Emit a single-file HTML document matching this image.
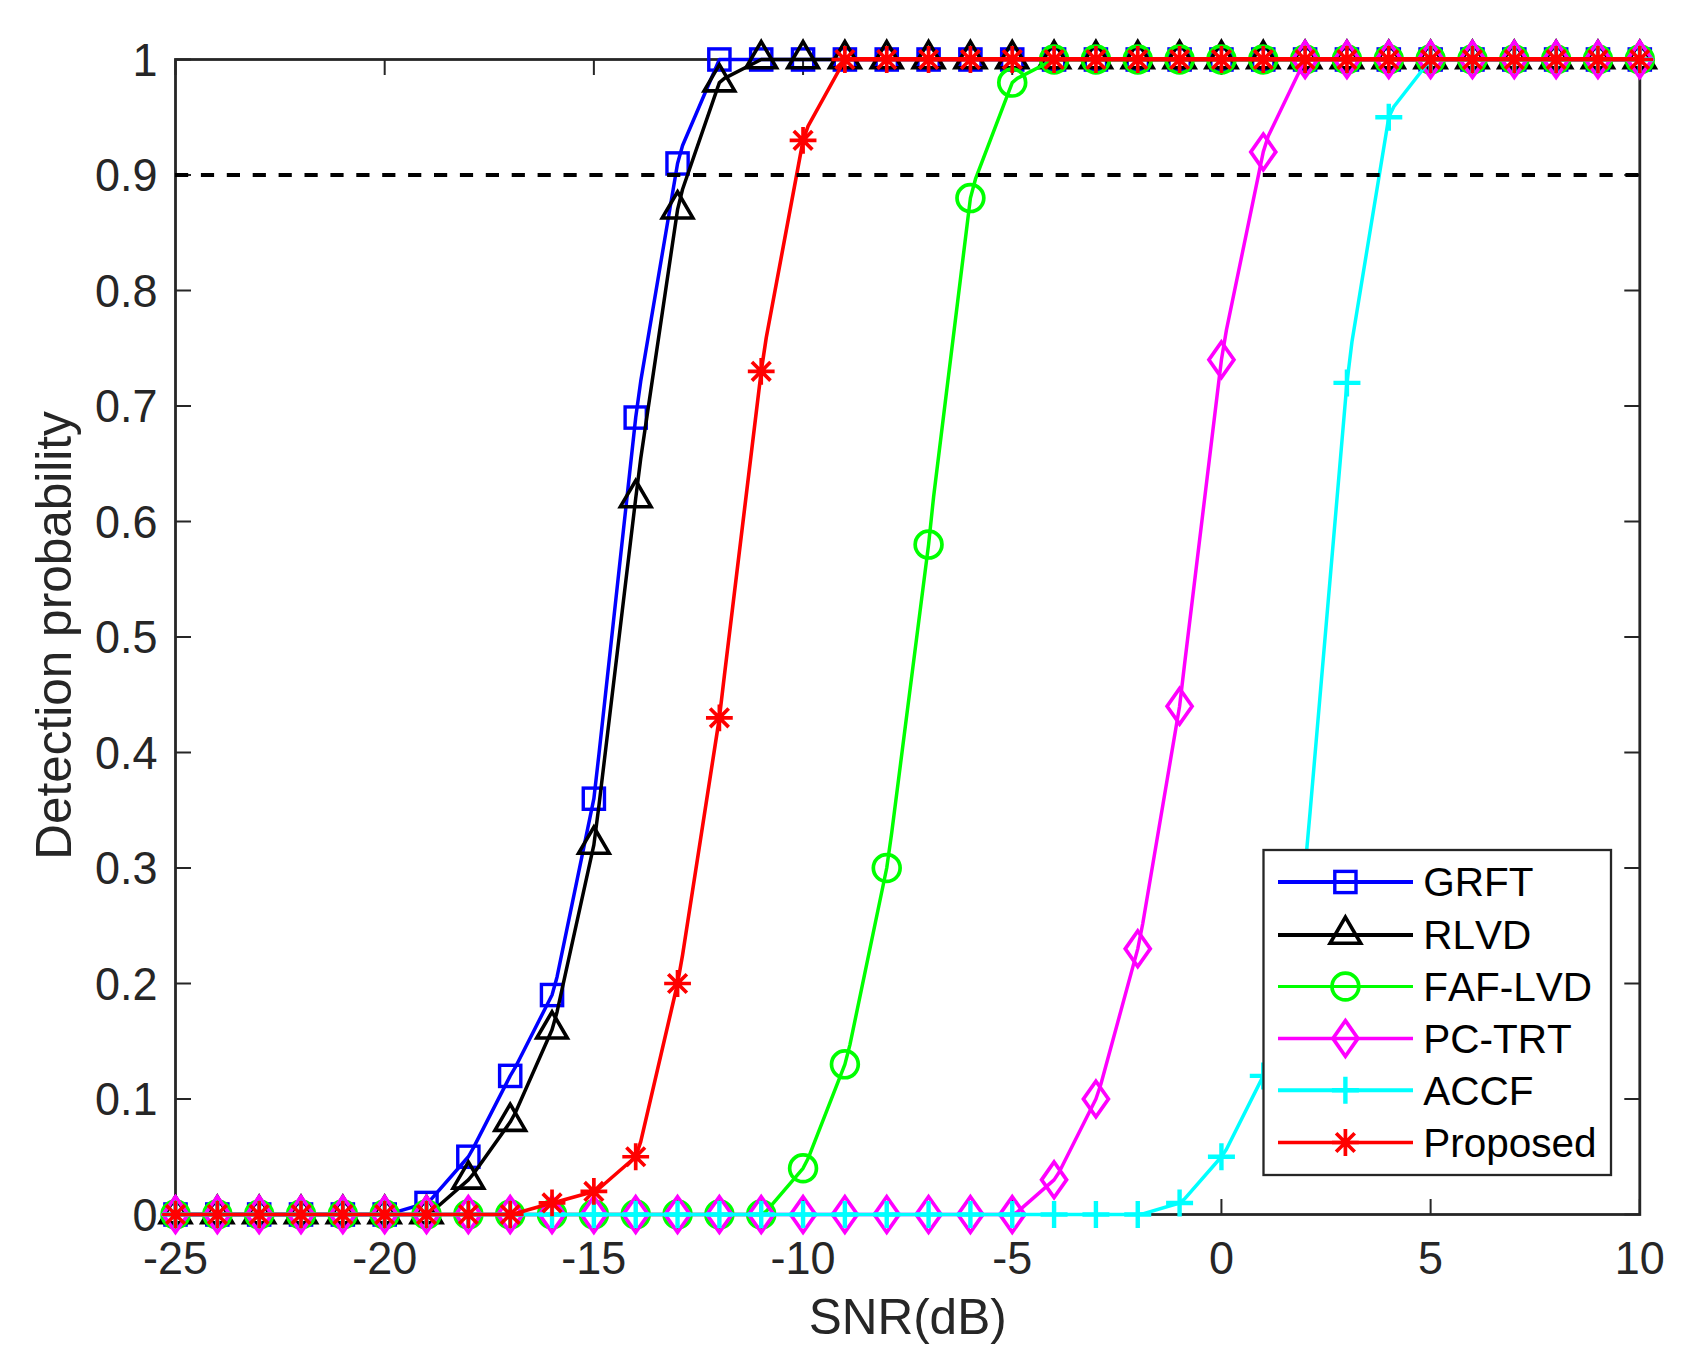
<!DOCTYPE html>
<html lang="en"><head><meta charset="utf-8"><title>Detection probability vs SNR</title>
<style>html,body{margin:0;padding:0;background:#fff}body{width:1691px;height:1367px;overflow:hidden}svg{display:block}text{font-family:"Liberation Sans",Arial,Helvetica,sans-serif;font-kerning:none;font-variant-ligatures:none}</style></head><body>
<svg width="1691" height="1367" viewBox="0 0 1691 1367">
<rect width="1691" height="1367" fill="#fff"/>
<defs><rect id="m-grft" x="-10.6" y="-10.6" width="21.2" height="21.2" fill="none" stroke="#0000ff" stroke-width="3.4"/><path id="m-rlvd" d="M0,-17.9L15.3,8.3L-15.3,8.3Z" fill="none" stroke="#000000" stroke-width="3.6" stroke-linejoin="miter"/><circle id="m-faf" r="13.4" fill="none" stroke="#00ff00" stroke-width="3.7"/><path id="m-pc" d="M0,-17.8L12.5,0L0,17.8L-12.5,0Z" fill="none" stroke="#ff00ff" stroke-width="3.7" stroke-linejoin="miter"/><path id="m-accf" d="M0,-13.5V13.5M-13.5,0H13.5" fill="none" stroke="#00ffff" stroke-width="4.4"/><path id="m-prop" d="M0,-13.4V13.4M-13.4,0H13.4M-9.3,-9.3L9.3,9.3M-9.3,9.3L9.3,-9.3" fill="none" stroke="#ff0000" stroke-width="3.7"/></defs>
<path d="M175.50,1214.5v-15.5M175.50,59.5v15.5M384.69,1214.5v-15.5M384.69,59.5v15.5M593.87,1214.5v-15.5M593.87,59.5v15.5M803.06,1214.5v-15.5M803.06,59.5v15.5M1012.24,1214.5v-15.5M1012.24,59.5v15.5M1221.43,1214.5v-15.5M1221.43,59.5v15.5M1430.61,1214.5v-15.5M1430.61,59.5v15.5M1639.80,1214.5v-15.5M1639.80,59.5v15.5M175.5,1214.50h15.5M1639.8,1214.50h-15.5M175.5,1099.00h15.5M1639.8,1099.00h-15.5M175.5,983.50h15.5M1639.8,983.50h-15.5M175.5,868.00h15.5M1639.8,868.00h-15.5M175.5,752.50h15.5M1639.8,752.50h-15.5M175.5,637.00h15.5M1639.8,637.00h-15.5M175.5,521.50h15.5M1639.8,521.50h-15.5M175.5,406.00h15.5M1639.8,406.00h-15.5M175.5,290.50h15.5M1639.8,290.50h-15.5M175.5,175.00h15.5M1639.8,175.00h-15.5M175.5,59.50h15.5M1639.8,59.50h-15.5" stroke="#262626" stroke-width="2.0" fill="none"/>
<rect x="175.5" y="59.5" width="1464.3" height="1155.0" fill="none" stroke="#262626" stroke-width="2.8"/>
<g font-size="45" fill="#262626" text-anchor="middle">
<text transform="translate(175.50,1273.8) scale(1,1.015)">-25</text>
<text transform="translate(384.69,1273.8) scale(1,1.015)">-20</text>
<text transform="translate(593.87,1273.8) scale(1,1.015)">-15</text>
<text transform="translate(803.06,1273.8) scale(1,1.015)">-10</text>
<text transform="translate(1012.24,1273.8) scale(1,1.015)">-5</text>
<text transform="translate(1221.43,1273.8) scale(1,1.015)">0</text>
<text transform="translate(1430.61,1273.8) scale(1,1.015)">5</text>
<text transform="translate(1639.80,1273.8) scale(1,1.015)">10</text>
</g>
<g font-size="45" fill="#262626" text-anchor="end">
<text transform="translate(157.6,1230.70) scale(1,1.015)">0</text>
<text transform="translate(157.6,1115.20) scale(1,1.015)">0.1</text>
<text transform="translate(157.6,999.70) scale(1,1.015)">0.2</text>
<text transform="translate(157.6,884.20) scale(1,1.015)">0.3</text>
<text transform="translate(157.6,768.70) scale(1,1.015)">0.4</text>
<text transform="translate(157.6,653.20) scale(1,1.015)">0.5</text>
<text transform="translate(157.6,537.70) scale(1,1.015)">0.6</text>
<text transform="translate(157.6,422.20) scale(1,1.015)">0.7</text>
<text transform="translate(157.6,306.70) scale(1,1.015)">0.8</text>
<text transform="translate(157.6,191.20) scale(1,1.015)">0.9</text>
<text transform="translate(157.6,75.70) scale(1,1.015)">1</text>
</g>
<text x="907.65" y="1333.6" font-size="49.5" fill="#262626" text-anchor="middle">SNR(dB)</text>
<text transform="translate(70.8,635.50) rotate(-90)" font-size="49.5" fill="#262626" text-anchor="middle">Detection probability</text>
<path d="M175.50,1214.50L384.69,1214.50L389.71,1213.81L426.52,1202.95L431.54,1198.92L468.36,1156.75L473.38,1147.87L510.20,1075.90L515.22,1067.46L552.03,995.05L557.05,976.91L593.87,798.70L598.89,754.68L635.71,417.55L640.73,381.16L677.55,163.45L682.57,145.44L719.38,59.50L1639.80,59.50" fill="none" stroke="#0000ff" stroke-width="3.5" stroke-linejoin="round"/>
<g><use href="#m-grft" x="175.50" y="1214.50"/><use href="#m-grft" x="217.34" y="1214.50"/><use href="#m-grft" x="259.17" y="1214.50"/><use href="#m-grft" x="301.01" y="1214.50"/><use href="#m-grft" x="342.85" y="1214.50"/><use href="#m-grft" x="384.69" y="1214.50"/><use href="#m-grft" x="426.52" y="1202.95"/><use href="#m-grft" x="468.36" y="1156.75"/><use href="#m-grft" x="510.20" y="1075.90"/><use href="#m-grft" x="552.03" y="995.05"/><use href="#m-grft" x="593.87" y="798.70"/><use href="#m-grft" x="635.71" y="417.55"/><use href="#m-grft" x="677.55" y="163.45"/><use href="#m-grft" x="719.38" y="59.50"/><use href="#m-grft" x="761.22" y="59.50"/><use href="#m-grft" x="803.06" y="59.50"/><use href="#m-grft" x="844.89" y="59.50"/><use href="#m-grft" x="886.73" y="59.50"/><use href="#m-grft" x="928.57" y="59.50"/><use href="#m-grft" x="970.41" y="59.50"/><use href="#m-grft" x="1012.24" y="59.50"/><use href="#m-grft" x="1054.08" y="59.50"/><use href="#m-grft" x="1095.92" y="59.50"/><use href="#m-grft" x="1137.75" y="59.50"/><use href="#m-grft" x="1179.59" y="59.50"/><use href="#m-grft" x="1221.43" y="59.50"/><use href="#m-grft" x="1263.27" y="59.50"/><use href="#m-grft" x="1305.10" y="59.50"/><use href="#m-grft" x="1346.94" y="59.50"/><use href="#m-grft" x="1388.78" y="59.50"/><use href="#m-grft" x="1430.61" y="59.50"/><use href="#m-grft" x="1472.45" y="59.50"/><use href="#m-grft" x="1514.29" y="59.50"/><use href="#m-grft" x="1556.13" y="59.50"/><use href="#m-grft" x="1597.96" y="59.50"/><use href="#m-grft" x="1639.80" y="59.50"/></g>
<path d="M175.50,1214.50L426.52,1214.50L431.54,1211.97L468.36,1179.85L473.38,1173.96L510.20,1122.10L515.22,1112.97L552.03,1029.70L557.05,1011.94L593.87,844.90L598.89,806.09L635.71,498.40L640.73,458.55L677.55,209.65L682.57,189.25L719.38,82.60L724.40,78.36L761.22,59.50L1639.80,59.50" fill="none" stroke="#000000" stroke-width="3.5" stroke-linejoin="round"/>
<g><use href="#m-rlvd" x="175.50" y="1214.50"/><use href="#m-rlvd" x="217.34" y="1214.50"/><use href="#m-rlvd" x="259.17" y="1214.50"/><use href="#m-rlvd" x="301.01" y="1214.50"/><use href="#m-rlvd" x="342.85" y="1214.50"/><use href="#m-rlvd" x="384.69" y="1214.50"/><use href="#m-rlvd" x="426.52" y="1214.50"/><use href="#m-rlvd" x="468.36" y="1179.85"/><use href="#m-rlvd" x="510.20" y="1122.10"/><use href="#m-rlvd" x="552.03" y="1029.70"/><use href="#m-rlvd" x="593.87" y="844.90"/><use href="#m-rlvd" x="635.71" y="498.40"/><use href="#m-rlvd" x="677.55" y="209.65"/><use href="#m-rlvd" x="719.38" y="82.60"/><use href="#m-rlvd" x="761.22" y="59.50"/><use href="#m-rlvd" x="803.06" y="59.50"/><use href="#m-rlvd" x="844.89" y="59.50"/><use href="#m-rlvd" x="886.73" y="59.50"/><use href="#m-rlvd" x="928.57" y="59.50"/><use href="#m-rlvd" x="970.41" y="59.50"/><use href="#m-rlvd" x="1012.24" y="59.50"/><use href="#m-rlvd" x="1054.08" y="59.50"/><use href="#m-rlvd" x="1095.92" y="59.50"/><use href="#m-rlvd" x="1137.75" y="59.50"/><use href="#m-rlvd" x="1179.59" y="59.50"/><use href="#m-rlvd" x="1221.43" y="59.50"/><use href="#m-rlvd" x="1263.27" y="59.50"/><use href="#m-rlvd" x="1305.10" y="59.50"/><use href="#m-rlvd" x="1346.94" y="59.50"/><use href="#m-rlvd" x="1388.78" y="59.50"/><use href="#m-rlvd" x="1430.61" y="59.50"/><use href="#m-rlvd" x="1472.45" y="59.50"/><use href="#m-rlvd" x="1514.29" y="59.50"/><use href="#m-rlvd" x="1556.13" y="59.50"/><use href="#m-rlvd" x="1597.96" y="59.50"/><use href="#m-rlvd" x="1639.80" y="59.50"/></g>
<path d="M175.50,1214.50L761.22,1214.50L766.24,1211.35L803.06,1168.30L808.08,1158.52L844.89,1064.35L849.91,1044.85L886.73,868.00L891.75,832.57L928.57,544.60L933.59,496.97L970.41,198.10L975.43,179.19L1012.24,82.60L1017.26,78.38L1054.08,59.50L1639.80,59.50" fill="none" stroke="#00ff00" stroke-width="3.5" stroke-linejoin="round"/>
<g><use href="#m-faf" x="175.50" y="1214.50"/><use href="#m-faf" x="217.34" y="1214.50"/><use href="#m-faf" x="259.17" y="1214.50"/><use href="#m-faf" x="301.01" y="1214.50"/><use href="#m-faf" x="342.85" y="1214.50"/><use href="#m-faf" x="384.69" y="1214.50"/><use href="#m-faf" x="426.52" y="1214.50"/><use href="#m-faf" x="468.36" y="1214.50"/><use href="#m-faf" x="510.20" y="1214.50"/><use href="#m-faf" x="552.03" y="1214.50"/><use href="#m-faf" x="593.87" y="1214.50"/><use href="#m-faf" x="635.71" y="1214.50"/><use href="#m-faf" x="677.55" y="1214.50"/><use href="#m-faf" x="719.38" y="1214.50"/><use href="#m-faf" x="761.22" y="1214.50"/><use href="#m-faf" x="803.06" y="1168.30"/><use href="#m-faf" x="844.89" y="1064.35"/><use href="#m-faf" x="886.73" y="868.00"/><use href="#m-faf" x="928.57" y="544.60"/><use href="#m-faf" x="970.41" y="198.10"/><use href="#m-faf" x="1012.24" y="82.60"/><use href="#m-faf" x="1054.08" y="59.50"/><use href="#m-faf" x="1095.92" y="59.50"/><use href="#m-faf" x="1137.75" y="59.50"/><use href="#m-faf" x="1179.59" y="59.50"/><use href="#m-faf" x="1221.43" y="59.50"/><use href="#m-faf" x="1263.27" y="59.50"/><use href="#m-faf" x="1305.10" y="59.50"/><use href="#m-faf" x="1346.94" y="59.50"/><use href="#m-faf" x="1388.78" y="59.50"/><use href="#m-faf" x="1430.61" y="59.50"/><use href="#m-faf" x="1472.45" y="59.50"/><use href="#m-faf" x="1514.29" y="59.50"/><use href="#m-faf" x="1556.13" y="59.50"/><use href="#m-faf" x="1597.96" y="59.50"/><use href="#m-faf" x="1639.80" y="59.50"/></g>
<path d="M175.50,1214.50L1012.24,1214.50L1017.26,1212.16L1054.08,1179.85L1059.10,1172.27L1095.92,1099.00L1100.94,1084.00L1137.75,948.85L1142.77,923.49L1179.59,706.30L1184.61,663.76L1221.43,359.80L1226.45,329.90L1263.27,151.90L1268.29,136.01L1305.10,59.50L1639.80,59.50" fill="none" stroke="#ff00ff" stroke-width="3.5" stroke-linejoin="round"/>
<g><use href="#m-pc" x="175.50" y="1214.50"/><use href="#m-pc" x="217.34" y="1214.50"/><use href="#m-pc" x="259.17" y="1214.50"/><use href="#m-pc" x="301.01" y="1214.50"/><use href="#m-pc" x="342.85" y="1214.50"/><use href="#m-pc" x="384.69" y="1214.50"/><use href="#m-pc" x="426.52" y="1214.50"/><use href="#m-pc" x="468.36" y="1214.50"/><use href="#m-pc" x="510.20" y="1214.50"/><use href="#m-pc" x="552.03" y="1214.50"/><use href="#m-pc" x="593.87" y="1214.50"/><use href="#m-pc" x="635.71" y="1214.50"/><use href="#m-pc" x="677.55" y="1214.50"/><use href="#m-pc" x="719.38" y="1214.50"/><use href="#m-pc" x="761.22" y="1214.50"/><use href="#m-pc" x="803.06" y="1214.50"/><use href="#m-pc" x="844.89" y="1214.50"/><use href="#m-pc" x="886.73" y="1214.50"/><use href="#m-pc" x="928.57" y="1214.50"/><use href="#m-pc" x="970.41" y="1214.50"/><use href="#m-pc" x="1012.24" y="1214.50"/><use href="#m-pc" x="1054.08" y="1179.85"/><use href="#m-pc" x="1095.92" y="1099.00"/><use href="#m-pc" x="1137.75" y="948.85"/><use href="#m-pc" x="1179.59" y="706.30"/><use href="#m-pc" x="1221.43" y="359.80"/><use href="#m-pc" x="1263.27" y="151.90"/><use href="#m-pc" x="1305.10" y="59.50"/><use href="#m-pc" x="1346.94" y="59.50"/><use href="#m-pc" x="1388.78" y="59.50"/><use href="#m-pc" x="1430.61" y="59.50"/><use href="#m-pc" x="1472.45" y="59.50"/><use href="#m-pc" x="1514.29" y="59.50"/><use href="#m-pc" x="1556.13" y="59.50"/><use href="#m-pc" x="1597.96" y="59.50"/><use href="#m-pc" x="1639.80" y="59.50"/></g>
<path d="M175.50,1214.50L1137.75,1214.50L1142.77,1213.81L1179.59,1202.95L1184.61,1198.92L1221.43,1156.75L1226.45,1149.21L1263.27,1075.90L1268.29,1057.50L1305.10,868.00L1310.12,811.75L1346.94,382.90L1351.96,341.71L1388.78,117.25L1393.80,106.76L1430.61,59.50L1639.80,59.50" fill="none" stroke="#00ffff" stroke-width="3.5" stroke-linejoin="round"/>
<g><use href="#m-accf" x="175.50" y="1214.50"/><use href="#m-accf" x="217.34" y="1214.50"/><use href="#m-accf" x="259.17" y="1214.50"/><use href="#m-accf" x="301.01" y="1214.50"/><use href="#m-accf" x="342.85" y="1214.50"/><use href="#m-accf" x="384.69" y="1214.50"/><use href="#m-accf" x="426.52" y="1214.50"/><use href="#m-accf" x="468.36" y="1214.50"/><use href="#m-accf" x="510.20" y="1214.50"/><use href="#m-accf" x="552.03" y="1214.50"/><use href="#m-accf" x="593.87" y="1214.50"/><use href="#m-accf" x="635.71" y="1214.50"/><use href="#m-accf" x="677.55" y="1214.50"/><use href="#m-accf" x="719.38" y="1214.50"/><use href="#m-accf" x="761.22" y="1214.50"/><use href="#m-accf" x="803.06" y="1214.50"/><use href="#m-accf" x="844.89" y="1214.50"/><use href="#m-accf" x="886.73" y="1214.50"/><use href="#m-accf" x="928.57" y="1214.50"/><use href="#m-accf" x="970.41" y="1214.50"/><use href="#m-accf" x="1012.24" y="1214.50"/><use href="#m-accf" x="1054.08" y="1214.50"/><use href="#m-accf" x="1095.92" y="1214.50"/><use href="#m-accf" x="1137.75" y="1214.50"/><use href="#m-accf" x="1179.59" y="1202.95"/><use href="#m-accf" x="1221.43" y="1156.75"/><use href="#m-accf" x="1263.27" y="1075.90"/><use href="#m-accf" x="1305.10" y="868.00"/><use href="#m-accf" x="1346.94" y="382.90"/><use href="#m-accf" x="1388.78" y="117.25"/><use href="#m-accf" x="1430.61" y="59.50"/><use href="#m-accf" x="1472.45" y="59.50"/><use href="#m-accf" x="1514.29" y="59.50"/><use href="#m-accf" x="1556.13" y="59.50"/><use href="#m-accf" x="1597.96" y="59.50"/><use href="#m-accf" x="1639.80" y="59.50"/></g>
<path d="M175.50,1214.50L510.20,1214.50L515.22,1213.55L552.03,1202.95L557.05,1201.78L593.87,1191.40L598.89,1188.76L635.71,1156.75L640.73,1141.66L677.55,983.50L682.57,955.03L719.38,717.85L724.40,675.39L761.22,371.35L766.24,337.73L803.06,140.35L808.08,126.16L844.89,59.50L1639.80,59.50" fill="none" stroke="#ff0000" stroke-width="3.6" stroke-linejoin="round"/>
<g><use href="#m-prop" x="175.50" y="1214.50"/><use href="#m-prop" x="217.34" y="1214.50"/><use href="#m-prop" x="259.17" y="1214.50"/><use href="#m-prop" x="301.01" y="1214.50"/><use href="#m-prop" x="342.85" y="1214.50"/><use href="#m-prop" x="384.69" y="1214.50"/><use href="#m-prop" x="426.52" y="1214.50"/><use href="#m-prop" x="468.36" y="1214.50"/><use href="#m-prop" x="510.20" y="1214.50"/><use href="#m-prop" x="552.03" y="1202.95"/><use href="#m-prop" x="593.87" y="1191.40"/><use href="#m-prop" x="635.71" y="1156.75"/><use href="#m-prop" x="677.55" y="983.50"/><use href="#m-prop" x="719.38" y="717.85"/><use href="#m-prop" x="761.22" y="371.35"/><use href="#m-prop" x="803.06" y="140.35"/><use href="#m-prop" x="844.89" y="59.50"/><use href="#m-prop" x="886.73" y="59.50"/><use href="#m-prop" x="928.57" y="59.50"/><use href="#m-prop" x="970.41" y="59.50"/><use href="#m-prop" x="1012.24" y="59.50"/><use href="#m-prop" x="1054.08" y="59.50"/><use href="#m-prop" x="1095.92" y="59.50"/><use href="#m-prop" x="1137.75" y="59.50"/><use href="#m-prop" x="1179.59" y="59.50"/><use href="#m-prop" x="1221.43" y="59.50"/><use href="#m-prop" x="1263.27" y="59.50"/><use href="#m-prop" x="1305.10" y="59.50"/><use href="#m-prop" x="1346.94" y="59.50"/><use href="#m-prop" x="1388.78" y="59.50"/><use href="#m-prop" x="1430.61" y="59.50"/><use href="#m-prop" x="1472.45" y="59.50"/><use href="#m-prop" x="1514.29" y="59.50"/><use href="#m-prop" x="1556.13" y="59.50"/><use href="#m-prop" x="1597.96" y="59.50"/><use href="#m-prop" x="1639.80" y="59.50"/></g>
<path d="M844.89,59.1H1639.8" stroke="#ff0000" stroke-width="4.3" fill="none"/>
<path d="M175.0,175.00H1639.8" stroke="#000" stroke-width="3.8" stroke-dasharray="13.2 12.7" fill="none"/>
<rect x="1263.5" y="850" width="347.5" height="325" fill="#fff" stroke="#262626" stroke-width="2.3"/>
<g font-size="40.5" fill="#000">
<path d="M1278,882H1413" stroke="#0000ff" stroke-width="4" fill="none"/>
<use href="#m-grft" x="1345.4" y="882"/>
<text x="1423.2" y="896.3">GRFT</text>
<path d="M1278,935H1413" stroke="#000000" stroke-width="4" fill="none"/>
<use href="#m-rlvd" x="1345.4" y="935"/>
<text x="1423.2" y="949.3">RLVD</text>
<path d="M1278,986.5H1413" stroke="#00ff00" stroke-width="3.2" fill="none"/>
<use href="#m-faf" x="1345.4" y="986.5"/>
<text x="1423.2" y="1000.8">FAF-LVD</text>
<path d="M1278,1038.4H1413" stroke="#ff00ff" stroke-width="3.5" fill="none"/>
<use href="#m-pc" x="1345.4" y="1038.4"/>
<text x="1423.2" y="1052.7">PC-TRT</text>
<path d="M1278,1090.2H1413" stroke="#00ffff" stroke-width="4" fill="none"/>
<use href="#m-accf" x="1345.4" y="1090.2"/>
<text x="1423.2" y="1104.5">ACCF</text>
<path d="M1278,1142.5H1413" stroke="#ff0000" stroke-width="3.3" fill="none"/>
<use href="#m-prop" x="1345.4" y="1142.5"/>
<text x="1423.2" y="1156.8">Proposed</text>
</g>
</svg></body></html>
